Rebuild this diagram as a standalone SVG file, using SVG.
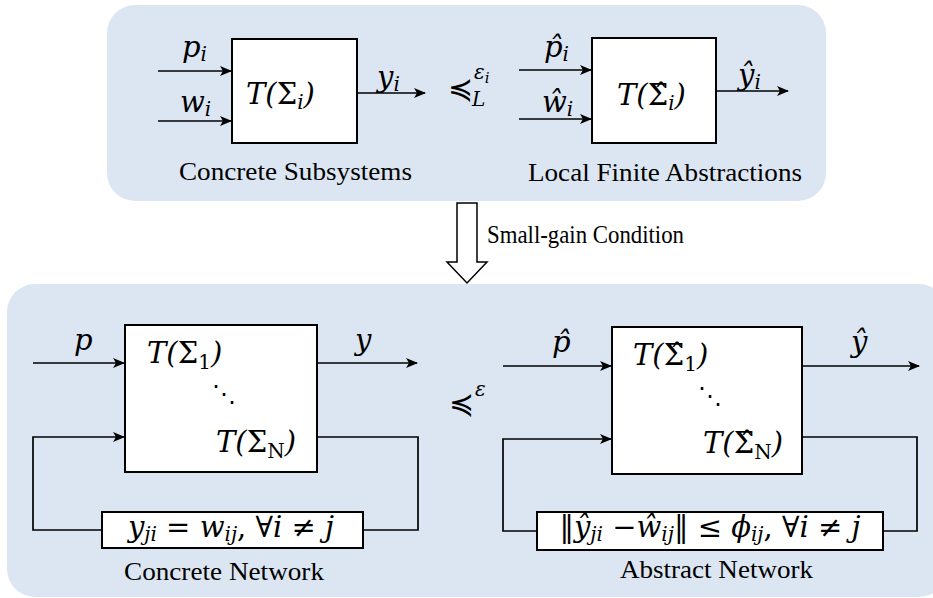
<svg xmlns="http://www.w3.org/2000/svg" width="933" height="598" viewBox="0 0 933 598">
<style>
.panel{fill:#dce6f2;stroke:none}
.box{fill:#fff;stroke:#000;stroke-width:2}
.ln{fill:none;stroke:#000;stroke-width:1.7}
.cap{font-family:"Liberation Serif","Times New Roman",serif;font-size:26px;fill:#000}
.m{font-family:"DejaVu Serif",serif;font-style:italic;font-size:29px;fill:#000}
.s{font-size:20px}
.u{font-style:normal}
.sym{font-family:"DejaVu Sans",sans-serif;font-style:normal}
</style>
<defs>
<marker id="ah" viewBox="0 0 12 10" refX="11" refY="5" markerWidth="12" markerHeight="10" markerUnits="userSpaceOnUse" orient="auto">
<path d="M0,0 L12,5 L0,10 L3,5 Z" fill="#000"/>
</marker>
</defs>
<rect class="panel" x="107" y="5" width="719" height="196" rx="28"/>
<rect class="panel" x="7" y="284" width="940" height="313" rx="28"/>

<g id="connectors">
<line class="ln" x1="158" y1="71" x2="231" y2="71" marker-end="url(#ah)"/>
<line class="ln" x1="158" y1="121" x2="231" y2="121" marker-end="url(#ah)"/>
<line class="ln" x1="357" y1="93" x2="425" y2="93" marker-end="url(#ah)"/>
<line class="ln" x1="519" y1="70" x2="591" y2="70" marker-end="url(#ah)"/>
<line class="ln" x1="519" y1="119" x2="591" y2="119" marker-end="url(#ah)"/>
<line class="ln" x1="716" y1="91" x2="788" y2="91" marker-end="url(#ah)"/>
<line class="ln" x1="33" y1="363" x2="124" y2="363" marker-end="url(#ah)"/>
<line class="ln" x1="317" y1="363" x2="417" y2="363" marker-end="url(#ah)"/>
<polyline class="ln" points="317,437 418,437 418,530 363,530"/>
<polyline class="ln" points="102,530 33,530 33,437 124,437" marker-end="url(#ah)"/>
<line class="ln" x1="503" y1="366" x2="611" y2="366" marker-end="url(#ah)"/>
<line class="ln" x1="802" y1="366" x2="919" y2="366" marker-end="url(#ah)"/>
<polyline class="ln" points="802,437 917,437 917,531 883,531"/>
<polyline class="ln" points="537,531 503,531 503,439 611,439" marker-end="url(#ah)"/>
<path d="M457,203 L477,203 L477,262 L487,262 L467,283 L447,262 L457,262 Z" fill="#fff" stroke="#000" stroke-width="1.5"/>
</g>

<g id="concrete-subsystem">
<rect class="box" x="232" y="39" width="125" height="104"/>
<text class="m" x="246" y="104">T(<tspan class="u">Σ</tspan><tspan class="s" dy="5">i</tspan><tspan dy="-5">)</tspan></text>
<text class="m" x="182" y="57">p<tspan class="s" dy="4">i</tspan></text>
<text class="m" x="180" y="112">w<tspan class="s" dy="4">i</tspan></text>
<text class="m" x="377" y="87">y<tspan class="s" dy="4">i</tspan></text>
<text class="cap" x="179" y="180" textLength="233" lengthAdjust="spacingAndGlyphs">Concrete Subsystems</text>
</g>

<g id="relation-local">
<text class="m" x="448" y="99"><tspan class="sym" font-size="30">≼</tspan><tspan class="s" x="474" y="79">ε</tspan><tspan font-size="15" dy="4">i</tspan><tspan class="s" x="472" y="106">L</tspan></text>
</g>

<g id="abstract-subsystem">
<rect class="box" x="592" y="38" width="124" height="105"/>
<text class="m" x="617" y="105">T(<tspan class="u">Σ̂</tspan><tspan class="s" dy="5">i</tspan><tspan dy="-5">)</tspan></text>
<text class="m" x="544" y="57">p̂<tspan class="s" dy="4">i</tspan></text>
<text class="m" x="542" y="112">ŵ<tspan class="s" dy="4">i</tspan></text>
<text class="m" x="738" y="85">ŷ<tspan class="s" dy="4">i</tspan></text>
<text class="cap" x="528" y="181" textLength="274" lengthAdjust="spacingAndGlyphs">Local Finite Abstractions</text>
</g>

<g id="small-gain">
<text class="cap" x="487" y="243" font-size="24" textLength="197" lengthAdjust="spacingAndGlyphs">Small-gain Condition</text>
</g>

<g id="concrete-network">
<rect class="box" x="125" y="325" width="192" height="147"/>
<text class="m" x="147" y="363">T(<tspan class="u">Σ</tspan><tspan class="s u" dy="6">1</tspan><tspan dy="-6">)</tspan></text>
<text class="m" x="212" y="402"><tspan class="sym" font-size="24">⋱</tspan></text>
<text class="m" x="216" y="452">T(<tspan class="u">Σ</tspan><tspan class="s u" dy="6">N</tspan><tspan dy="-6">)</tspan></text>
<text class="m" x="74" y="350">p</text>
<text class="m" x="355" y="350">y</text>
<rect class="box" x="102" y="512" width="261" height="36"/>
<text class="m" x="231" y="537" text-anchor="middle" font-size="24">y<tspan class="s" font-size="18" dy="4">ji</tspan><tspan dy="-4" class="u"> = </tspan>w<tspan class="s" font-size="18" dy="4">ij</tspan><tspan dy="-4" class="u">, ∀</tspan>i<tspan class="u"> ≠ </tspan>j</text>
<text class="cap" x="124" y="580" textLength="200" lengthAdjust="spacingAndGlyphs">Concrete Network</text>
</g>

<g id="relation-network">
<text class="m" x="449" y="414"><tspan class="sym" font-size="30">≼</tspan><tspan class="s" x="475" y="396">ε</tspan></text>
</g>

<g id="abstract-network">
<rect class="box" x="612" y="327" width="190" height="147"/>
<text class="m" x="633" y="365">T(<tspan class="u">Σ̂</tspan><tspan class="s u" dy="6">1</tspan><tspan dy="-6">)</tspan></text>
<text class="m" x="698" y="404"><tspan class="sym" font-size="24">⋱</tspan></text>
<text class="m" x="703" y="453">T(<tspan class="u">Σ̂</tspan><tspan class="s u" dy="6">N</tspan><tspan dy="-6">)</tspan></text>
<text class="m" x="552" y="352">p̂</text>
<text class="m" x="851" y="352">ŷ</text>
<rect class="box" x="537" y="512" width="346" height="38"/>
<text class="m" x="710" y="537" text-anchor="middle" font-size="24"><tspan class="u">‖</tspan>ŷ<tspan class="s" font-size="18" dy="4">ji</tspan><tspan dy="-4" class="u"> −</tspan>ŵ<tspan class="s" font-size="18" dy="4">ij</tspan><tspan dy="-4" class="u">‖ ≤ </tspan>ϕ<tspan class="s" font-size="18" dy="4">ij</tspan><tspan dy="-4" class="u">, ∀</tspan>i<tspan class="u"> ≠ </tspan>j</text>
<text class="cap" x="620" y="578" textLength="193" lengthAdjust="spacingAndGlyphs">Abstract Network</text>
</g>
</svg>
